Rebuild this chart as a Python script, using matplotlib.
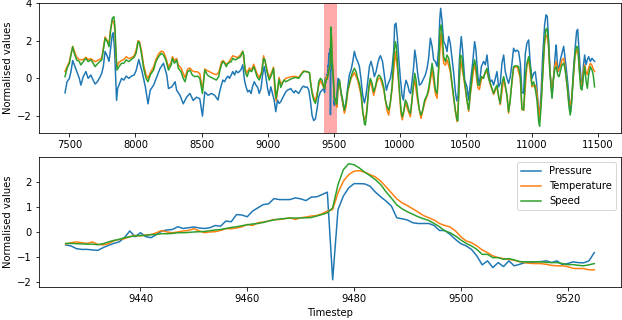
import numpy as np
import matplotlib
matplotlib.use("Agg")
import matplotlib.pyplot as plt

# ---------------- zoomed window (bottom panel), timesteps 9426..9525 ----------------
zoom_t = np.arange(9426, 9526)
zoom_pressure = [
    -0.53, -0.57, -0.68, -0.71, -0.71, -0.73, -0.75, -0.64, -0.55, -0.47,
    -0.41, -0.24, 0.03, -0.20, -0.04, -0.20, -0.24, -0.11, 0.03, 0.07,
    0.09, 0.20, 0.13, 0.16, 0.19, 0.15, 0.13, 0.16, 0.25, 0.22,
    0.43, 0.40, 0.69, 0.67, 0.60, 0.83, 0.96, 1.09, 1.12, 1.33,
    1.29, 1.29, 1.29, 1.36, 1.32, 1.25, 1.39, 1.40, 1.49, 1.59,
    -1.93, 0.89, 1.43, 1.76, 1.93, 1.93, 1.92, 1.83, 1.59, 1.40,
    1.23, 1.03, 0.56, 0.52, 0.47, 0.36, 0.33, 0.33, 0.33, 0.25,
    0.05, 0.05, -0.11, -0.31, -0.48, -0.57, -0.71, -0.97, -1.33, -1.17,
    -1.44, -1.24, -1.40, -1.17, -1.37, -1.31, -1.24, -1.24, -1.21, -1.20,
    -1.17, -1.24, -1.17, -1.32, -1.28, -1.21, -1.24, -1.25, -1.17, -0.84]
zoom_temperature = [
    -0.50, -0.44, -0.41, -0.44, -0.47, -0.41, -0.51, -0.53, -0.48, -0.37,
    -0.31, -0.28, -0.20, -0.15, -0.17, -0.13, -0.11, -0.04, 0.05, -0.01,
    -0.04, -0.01, 0.03, 0.05, 0.12, 0.03, -0.04, -0.01, 0.00, 0.05,
    0.12, 0.12, 0.15, 0.20, 0.29, 0.25, 0.36, 0.39, 0.43, 0.49,
    0.49, 0.52, 0.56, 0.49, 0.56, 0.59, 0.63, 0.65, 0.72, 0.83,
    0.89, 1.56, 2.03, 2.29, 2.43, 2.45, 2.39, 2.29, 2.20, 2.03,
    1.80, 1.56, 1.32, 1.16, 1.05, 0.92, 0.79, 0.65, 0.56, 0.47,
    0.33, 0.25, 0.19, 0.03, -0.20, -0.37, -0.44, -0.57, -0.73, -0.84,
    -0.97, -1.04, -1.08, -1.11, -1.15, -1.20, -1.24, -1.27, -1.28, -1.28,
    -1.31, -1.35, -1.37, -1.37, -1.40, -1.47, -1.48, -1.48, -1.53, -1.53]
zoom_speed = [
    -0.47, -0.47, -0.48, -0.49, -0.50, -0.50, -0.52, -0.48, -0.41, -0.35,
    -0.31, -0.24, -0.20, -0.17, -0.15, -0.15, -0.12, -0.11, -0.08, -0.08,
    -0.07, -0.04, -0.04, -0.03, -0.01, 0.00, 0.01, 0.04, 0.07, 0.09,
    0.13, 0.17, 0.20, 0.24, 0.28, 0.31, 0.33, 0.37, 0.43, 0.47,
    0.51, 0.53, 0.55, 0.55, 0.55, 0.56, 0.57, 0.63, 0.69, 0.76,
    0.96, 1.89, 2.49, 2.73, 2.69, 2.56, 2.39, 2.25, 2.09, 1.89,
    1.60, 1.35, 1.08, 0.92, 0.80, 0.70, 0.60, 0.52, 0.45, 0.33,
    0.20, 0.03, -0.04, -0.17, -0.33, -0.47, -0.57, -0.71, -0.91, -0.91,
    -1.04, -1.04, -1.11, -1.08, -1.13, -1.20, -1.21, -1.21, -1.21, -1.21,
    -1.23, -1.24, -1.24, -1.28, -1.32, -1.32, -1.35, -1.37, -1.33, -1.28]

# ---------------- full series (top panel), outside the zoom window ----------------
pressure_t = [
    7467, 7482, 7500, 7512, 7525, 7537, 7555, 7575, 7587, 7605, 7625, 7642, 7662, 7680, 7695,
    7712, 7730, 7745, 7757, 7770, 7787, 7800, 7812, 7825, 7832, 7842, 7852, 7857, 7865, 7880,
    7895, 7912, 7930, 7950, 7970, 7990, 8005, 8025, 8050, 8075, 8095, 8112, 8137, 8162, 8187,
    8212, 8237, 8250, 8275, 8300, 8312, 8337, 8362, 8387, 8412, 8437, 8462, 8487, 8507, 8525,
    8550, 8575, 8600, 8625, 8637, 8650, 8662, 8675, 8687, 8700, 8712, 8725, 8737, 8750, 8762,
    8775, 8787, 8800, 8812, 8825, 8837, 8850, 8862, 8875, 8887, 8900, 8912, 8925, 8937, 8950,
    8962, 8975, 8987, 9000, 9012, 9025, 9037, 9050, 9062, 9075, 9087, 9100, 9112, 9125, 9137,
    9150, 9162, 9175, 9187, 9200, 9211, 9236, 9261, 9274, 9286, 9299, 9312, 9324, 9337, 9349,
    9362, 9375, 9387, 9400, 9412,
    9533, 9543, 9556, 9569, 9581, 9594, 9607, 9619, 9632, 9645, 9657, 9670, 9682, 9695, 9708,
    9720, 9733, 9745, 9758, 9771, 9783, 9796, 9808, 9821, 9834, 9846, 9854, 9870, 9887, 9899,
    9912, 9930, 9942, 9955, 9962, 9972, 9982, 9993, 10005, 10018, 10028, 10038, 10048, 10061, 10073,
    10083, 10093, 10106, 10114, 10124, 10136, 10149, 10164, 10182, 10194, 10207, 10219, 10232, 10245, 10257,
    10270, 10283, 10295, 10303, 10310, 10320, 10333, 10346, 10358, 10371, 10383, 10396, 10409, 10421, 10432,
    10442, 10452, 10466, 10476, 10492, 10509, 10522, 10534, 10552, 10567, 10577, 10592, 10603, 10618, 10635,
    10648, 10661, 10673, 10686, 10698, 10711, 10724, 10736, 10749, 10761, 10774, 10787, 10799, 10812, 10824,
    10837, 10850, 10862, 10875, 10888, 10900, 10913, 10925, 10938, 10951, 10963, 10976, 10988, 11001, 11014,
    11026, 11036, 11045, 11057, 11070, 11082, 11097, 11107, 11117, 11127, 11140, 11148, 11153, 11165, 11178,
    11185, 11193, 11203, 11216, 11228, 11241, 11249, 11259, 11271, 11284, 11294, 11304, 11317, 11329, 11339,
    11347, 11354, 11365, 11375, 11382, 11390, 11400, 11410, 11420, 11430, 11443, 11455, 11465, 11475]
pressure = [
    -0.77, -0.18, 0.00, 0.36, 0.95, 0.72, 0.36, 0.00, -0.36, 0.09, 0.36, 0.00, 0.18, -0.09, -0.30,
    -0.18, 0.05, 0.27, 0.63, 1.43, 1.17, 0.90, 1.60, 2.33, 2.42, 1.52, -0.27, -1.17, -0.54, -0.27,
    0.00, -0.09, 0.12, 0.00, 0.12, 0.18, 0.41, 1.00, 0.36, -0.45, -1.35, -0.63, -0.36, 0.09, 0.54,
    0.80, 0.18, -0.54, -0.45, -0.18, -0.63, -0.90, -1.35, -1.00, -0.80, -1.17, -1.00, -1.08, -2.00, -0.72,
    -0.90, -0.80, -0.90, -1.15, -0.72, -0.36, -0.09, -0.18, 0.00, 0.12, 0.00, 0.18, 0.36, 0.18, 0.40,
    0.30, 0.36, 0.48, 0.72, -0.09, -0.45, -0.72, -0.63, -0.80, -0.41, -0.18, -0.36, -0.48, -0.80, -0.54,
    0.18, 0.63, 0.09, -0.54, -0.90, -0.45, -0.80, -1.15, -1.77, -1.15, -1.33, -1.24, -1.06, -0.89, -0.72,
    -0.63, -0.59, -0.54, -0.66, -0.77, -0.65, -0.80, -0.48, -0.41, -0.48, -0.45, -0.63, -1.17, -1.97, -2.24,
    -2.15, -1.60, -0.98, -0.72, -0.63,
    0.00, -0.09, -0.80, -1.33, -1.70, -1.24, -0.45, 0.18, 0.45, 0.90, 1.43, 1.08, 0.90, 0.63, -0.09,
    -0.90, -1.30, -0.90, -0.18, 0.63, 0.90, 0.54, 0.09, 0.35, 0.80, 1.10, 1.20, 0.90, 0.00, -0.63,
    -0.30, 0.00, 0.53, 1.50, 2.84, 2.93, 2.20, 1.06, 0.00, -0.90, -1.15, -0.45, -0.10, -0.36, -0.72,
    -0.80, -0.18, 0.63, 1.50, 1.06, 0.27, -0.36, -0.27, 0.00, 0.18, 0.53, 1.06, 2.13, 1.70, 0.98,
    0.89, 0.63, 1.60, 3.10, 3.72, 3.10, 1.95, 1.77, 1.42, 2.22, 1.86, 1.06, 0.27, -0.70, -1.20,
    -0.90, 1.00, 2.22, 1.50, -0.09, -0.45, -1.15, -0.27, 0.80, 1.95, 1.50, 0.09, -0.36, 0.63, 0.90,
    0.72, 1.24, 0.36, -0.18, -0.09, -0.36, 0.00, 0.36, -0.45, -0.27, 0.80, 1.24, 0.36, 0.00, -0.27,
    0.09, 0.80, 1.60, 1.42, 1.50, 1.42, 0.80, -0.72, -0.80, 1.33, 1.86, 2.04, 0.80, 0.00, 0.27,
    0.35, -0.20, -1.20, -2.10, -0.80, 1.15, 2.84, 3.37, 3.30, 2.04, 0.18, -0.45, -0.98, 0.09, 1.33,
    1.77, 0.80, 0.36, 0.98, 1.33, 1.70, 1.24, 0.63, -0.18, -1.15, -1.77, -0.90, 0.63, 1.70, 2.50,
    2.60, 1.86, 0.63, -0.18, -0.45, 0.63, 1.24, 0.72, 0.98, 1.15, 0.90, 1.06, 0.98, 0.90]

speed_t = [
    7467, 7482, 7500, 7512, 7525, 7537, 7555, 7575, 7587, 7605, 7625, 7642, 7662, 7680, 7695,
    7712, 7730, 7745, 7757, 7770, 7787, 7800, 7812, 7825, 7837, 7845, 7852, 7860, 7875, 7895,
    7912, 7930, 7950, 7970, 7990, 8005, 8020, 8030, 8045, 8062, 8080, 8095, 8112, 8137, 8155,
    8175, 8195, 8212, 8230, 8250, 8270, 8280, 8295, 8312, 8325, 8345, 8362, 8375, 8395, 8412,
    8430, 8450, 8470, 8487, 8507, 8525, 8545, 8562, 8587, 8612, 8630, 8637, 8650, 8662, 8675,
    8687, 8700, 8725, 8737, 8755, 8775, 8795, 8812, 8820, 8830, 8845, 8862, 8880, 8895, 8905,
    8920, 8937, 8955, 8970, 8980, 8995, 9012, 9030, 9045, 9055, 9065, 9075, 9087, 9100, 9112,
    9125, 9137, 9162, 9187, 9211, 9236, 9261, 9274, 9299, 9317, 9324, 9337, 9349, 9362, 9375,
    9387, 9400, 9412,
    9533, 9544, 9556, 9569, 9581, 9594, 9607, 9619, 9632, 9645, 9657, 9670, 9682, 9695, 9708,
    9720, 9733, 9740, 9753, 9766, 9778, 9791, 9803, 9816, 9829, 9841, 9854, 9866, 9879, 9892,
    9904, 9917, 9929, 9942, 9955, 9967, 9975, 9985, 9998, 10010, 10020, 10033, 10043, 10056, 10068,
    10081, 10093, 10103, 10114, 10124, 10136, 10149, 10161, 10174, 10189, 10207, 10219, 10232, 10245, 10257,
    10270, 10283, 10295, 10305, 10313, 10323, 10333, 10346, 10358, 10371, 10383, 10396, 10409, 10421, 10434,
    10440, 10448, 10459, 10471, 10484, 10497, 10509, 10522, 10534, 10552, 10567, 10577, 10592, 10603, 10618,
    10635, 10648, 10661, 10673, 10686, 10698, 10711, 10724, 10736, 10749, 10761, 10774, 10787, 10799, 10812,
    10824, 10837, 10850, 10862, 10875, 10888, 10900, 10913, 10925, 10938, 10951, 10963, 10976, 10988, 11001,
    11014, 11027, 11039, 11052, 11059, 11070, 11082, 11095, 11105, 11115, 11125, 11135, 11145, 11153, 11163,
    11175, 11185, 11196, 11206, 11216, 11228, 11241, 11251, 11261, 11271, 11281, 11291, 11301, 11314, 11327,
    11339, 11349, 11360, 11370, 11380, 11390, 11400, 11410, 11420, 11430, 11443, 11455, 11465, 11475]
speed = [
    0.09, 0.53, 0.80, 1.24, 1.68, 1.33, 0.98, 0.89, 0.71, 0.89, 1.06, 0.89, 0.98, 0.80, 0.62,
    0.77, 0.89, 0.98, 1.50, 2.13, 1.95, 1.68, 2.57, 3.19, 3.28, 2.74, 1.50, 0.44, 0.62, 0.80,
    0.80, 0.98, 0.89, 1.01, 1.12, 1.33, 1.95, 1.90, 1.33, 0.53, 0.00, -0.18, 0.18, 0.44, 0.89,
    1.15, 1.33, 1.24, 0.98, 0.44, 0.71, 1.06, 0.80, 0.98, 0.53, 0.36, 0.00, -0.18, 0.36, 0.44,
    0.18, 0.09, 0.12, 0.00, -0.80, 0.44, 0.18, 0.09, 0.00, -0.09, 0.09, 0.36, 0.71, 0.89, 0.80,
    0.62, 0.80, 0.89, 1.06, 0.98, 1.06, 1.15, 1.42, 1.24, 0.36, 0.09, 0.44, 0.36, 0.62, 0.44,
    0.09, -0.09, 0.27, 1.06, 0.98, 0.36, -0.09, 0.18, 0.53, -0.27, -1.06, -0.62, -0.05, -0.48, -0.27,
    -0.09, -0.18, -0.09, 0.00, 0.05, 0.00, 0.27, 0.36, 0.36, 0.30, -0.18, -0.80, -1.15, -1.33, -0.98,
    -0.18, 0.00, -0.09,
    -0.50, -0.09, -0.72, -1.15, -1.70, -1.33, -0.62, -0.27, 0.09, 0.36, 0.53, 0.36, 0.00, -0.27, -0.80,
    -1.70, -2.40, -2.48, -1.70, -0.45, 0.00, -0.27, -0.72, -0.45, 0.00, 0.18, 0.09, -0.10, -0.45, -1.15,
    -1.50, -1.68, -1.30, -0.45, 1.15, 1.95, 1.70, 0.62, -0.62, -1.68, -2.04, -1.68, -1.15, -1.33, -1.68,
    -1.86, -1.15, -0.36, 0.27, -0.09, -0.98, -1.68, -1.95, -1.68, -1.15, -0.89, -0.53, 0.09, 0.80, 0.27,
    -0.62, -0.80, 0.62, 2.57, 2.84, 2.22, 1.15, 0.89, 1.24, 1.06, 0.53, -0.27, -0.98, -1.68, -2.20,
    -2.25, -0.60, 1.24, 1.15, 0.18, -0.45, -1.15, -1.68, -0.80, 0.44, 0.98, 0.62, -0.36, -0.36, 0.09,
    0.00, 0.36, 0.53, 0.00, -0.27, -0.53, -0.80, -0.53, -0.36, -0.98, -1.33, -0.27, 0.09, -0.36, -0.89,
    -1.77, -1.15, -0.09, 0.62, 0.67, 0.65, 0.62, 0.09, -1.60, -1.68, 0.09, 0.80, 1.15, 0.62, -0.36,
    -0.18, -0.60, -1.15, -2.30, -2.54, -1.50, 0.09, 1.86, 2.57, 2.66, 2.04, 0.53, -0.45, -1.06, -0.09,
    0.53, 0.62, 0.18, 0.09, 0.36, 0.71, 0.80, 0.53, 0.00, -0.62, -1.50, -1.95, -1.33, 0.09, 1.33,
    1.70, 1.60, 0.36, -0.53, -0.62, 0.09, 0.62, -0.09, -0.53, 0.18, 0.62, 0.45, 0.18, -0.45]

temperature_t = [
    7467, 7482, 7500, 7512, 7525, 7537, 7555, 7575, 7587, 7605, 7625, 7642, 7662, 7680, 7695,
    7712, 7730, 7745, 7757, 7770, 7787, 7800, 7812, 7825, 7837, 7845, 7852, 7860, 7875, 7895,
    7912, 7930, 7950, 7970, 7990, 8005, 8020, 8030, 8045, 8062, 8080, 8095, 8112, 8137, 8155,
    8175, 8195, 8212, 8230, 8250, 8270, 8280, 8295, 8312, 8325, 8345, 8362, 8375, 8395, 8412,
    8430, 8450, 8470, 8487, 8507, 8525, 8545, 8562, 8587, 8612, 8630, 8650, 8662, 8687, 8700,
    8737, 8775, 8795, 8812, 8830, 8845, 8862, 8880, 8895, 8920, 8937, 8955, 8970, 8995, 9012,
    9030, 9045, 9055, 9065, 9075, 9087, 9100, 9137, 9187, 9211, 9236, 9261, 9274, 9317, 9324,
    9337, 9349, 9362, 9387, 9400, 9412,
    9533, 9544, 9556, 9569, 9581, 9594, 9607, 9632, 9657, 9682, 9708, 9720, 9733, 9745, 9766,
    9778, 9803, 9829, 9841, 9854, 9879, 9904, 9917, 9942, 9967, 9985, 10010, 10020, 10043, 10068,
    10081, 10103, 10114, 10136, 10161, 10189, 10219, 10245, 10270, 10283, 10295, 10313, 10333, 10346, 10358,
    10383, 10409, 10421, 10434, 10448, 10459, 10484, 10509, 10522, 10534, 10567, 10592, 10603, 10618, 10648,
    10661, 10686, 10711, 10736, 10761, 10787, 10812, 10824, 10850, 10862, 10888, 10913, 10925, 10938, 10963,
    10976, 11001, 11027, 11039, 11052, 11059, 11070, 11095, 11105, 11115, 11125, 11135, 11145, 11153, 11163,
    11175, 11185, 11196, 11216, 11228, 11241, 11251, 11271, 11281, 11291, 11301, 11327, 11339, 11349, 11360,
    11370, 11380, 11390, 11400, 11410, 11420, 11430, 11443, 11455, 11465, 11475]
temperature = [
    0.36, 0.60, 0.90, 1.30, 1.70, 1.45, 1.12, 1.00, 0.98, 1.00, 1.12, 1.00, 1.05, 0.95, 0.88,
    0.95, 1.00, 1.10, 1.60, 2.20, 2.00, 1.85, 2.60, 3.10, 2.95, 2.50, 1.20, 0.62, 0.85, 0.95,
    1.00, 1.15, 1.05, 1.10, 1.20, 1.50, 2.00, 1.95, 1.50, 0.70, 0.20, 0.00, 0.30, 0.60, 1.00,
    1.30, 1.45, 1.40, 1.10, 0.60, 0.85, 1.15, 0.95, 1.05, 0.70, 0.55, 0.25, 0.05, 0.50, 0.55,
    0.40, 0.35, 0.35, 0.25, -0.60, 0.50, 0.40, 0.35, 0.25, 0.20, 0.30, 0.85, 0.95, 0.75, 0.80,
    1.20, 1.10, 1.25, 1.45, 0.50, 0.30, 0.55, 0.45, 0.75, 0.25, 0.05, 0.35, 1.20, 0.50, 0.05,
    0.30, 0.60, -0.70, -1.20, -0.70, 0.05, -0.30, 0.00, 0.10, 0.10, 0.05, 0.30, 0.40, 0.30, -0.10,
    -0.70, -1.00, -1.20, -0.40, -0.10, -0.30,
    -0.60, -0.20, -0.80, -1.30, -1.85, -1.50, -0.70, 0.00, 0.30, -0.10, -0.90, -1.80, -2.20, -2.00, -0.60,
    -0.10, -0.90, -0.15, 0.00, 0.00, -0.60, -1.70, -1.95, -0.60, 1.42, 0.40, -1.90, -2.20, -1.30, -1.80,
    -2.04, -0.50, -0.09, -1.20, -2.13, -1.30, -0.70, 0.44, -0.80, -1.06, 0.40, 2.40, 0.80, 0.70, 1.00,
    0.35, -1.10, -1.75, -2.30, -0.80, 1.05, 0.05, -1.20, -1.75, -0.90, 0.85, -0.50, -0.60, -0.05, 0.25,
    0.40, -0.35, -0.85, -0.45, -1.40, 0.00, -0.95, -1.85, -0.20, 0.55, 0.65, 0.00, -1.65, -1.70, 0.70,
    1.00, -0.45, -0.36, -0.80, -1.68, -2.04, -1.30, 1.70, 2.30, 2.25, 1.80, 0.60, -0.27, -0.62, 0.00,
    0.70, 0.90, 0.35, 0.62, 0.98, 1.06, 0.60, -0.70, -1.30, -1.42, -1.10, 1.15, 1.50, 1.50, 0.45,
    -0.27, -0.36, 0.35, 0.71, 0.35, 0.20, 0.55, 0.80, 0.70, 0.50, 0.36]

series_names = ["Pressure", "Temperature", "Speed"]
colors = ["#1f77b4", "#ff7f0e", "#2ca02c"]
span_start, span_end = 9426, 9525


def merged(t_outside, v_outside, v_zoom):
    t = np.concatenate([np.asarray(t_outside, float), zoom_t.astype(float)])
    v = np.concatenate([np.asarray(v_outside, float), np.asarray(v_zoom, float)])
    order = np.argsort(t)
    return t[order], v[order]


full = [
    merged(pressure_t, pressure, zoom_pressure),
    merged(temperature_t, temperature, zoom_temperature),
    merged(speed_t, speed, zoom_speed),
]
zoomed = [zoom_pressure, zoom_temperature, zoom_speed]

plt.rcParams["font.family"] = ["DejaVu Sans"]
plt.rcParams["font.size"] = 10

W, H = 622, 320
fig = plt.figure(figsize=(W / 72, H / 72), dpi=72)
ax1 = fig.add_axes([39 / W, (H - 133) / H, 582 / W, 130 / H])
ax2 = fig.add_axes([39 / W, (H - 287) / H, 582 / W, 130 / H])

for (t, v), name, c in zip(full, series_names, colors):
    ax1.plot(t, v, color=c, lw=1.5, label=name)
ax1.axvspan(span_start, span_end, color="red", alpha=0.33, lw=0)
ax1.set_xlim(7270, 11675)
ax1.set_ylim(-2.9, 4.0)
ax1.set_xticks([7500, 8000, 8500, 9000, 9500, 10000, 10500, 11000, 11500])
ax1.set_yticks([-2, 0, 2, 4])
ax1.set_ylabel("Normalised values")

for v, name, c in zip(zoomed, series_names, colors):
    ax2.plot(zoom_t, v, color=c, lw=1.5, label=name)
ax2.set_xlim(9421, 9530)
ax2.set_ylim(-2.22, 3.0)
ax2.set_xticks([9440, 9460, 9480, 9500, 9520])
ax2.set_yticks([-2, -1, 0, 1, 2])
ax2.set_xlabel("Timestep")
ax2.set_ylabel("Normalised values")
ax2.legend(loc="upper right")

fig.savefig("out.png", dpi=72)
